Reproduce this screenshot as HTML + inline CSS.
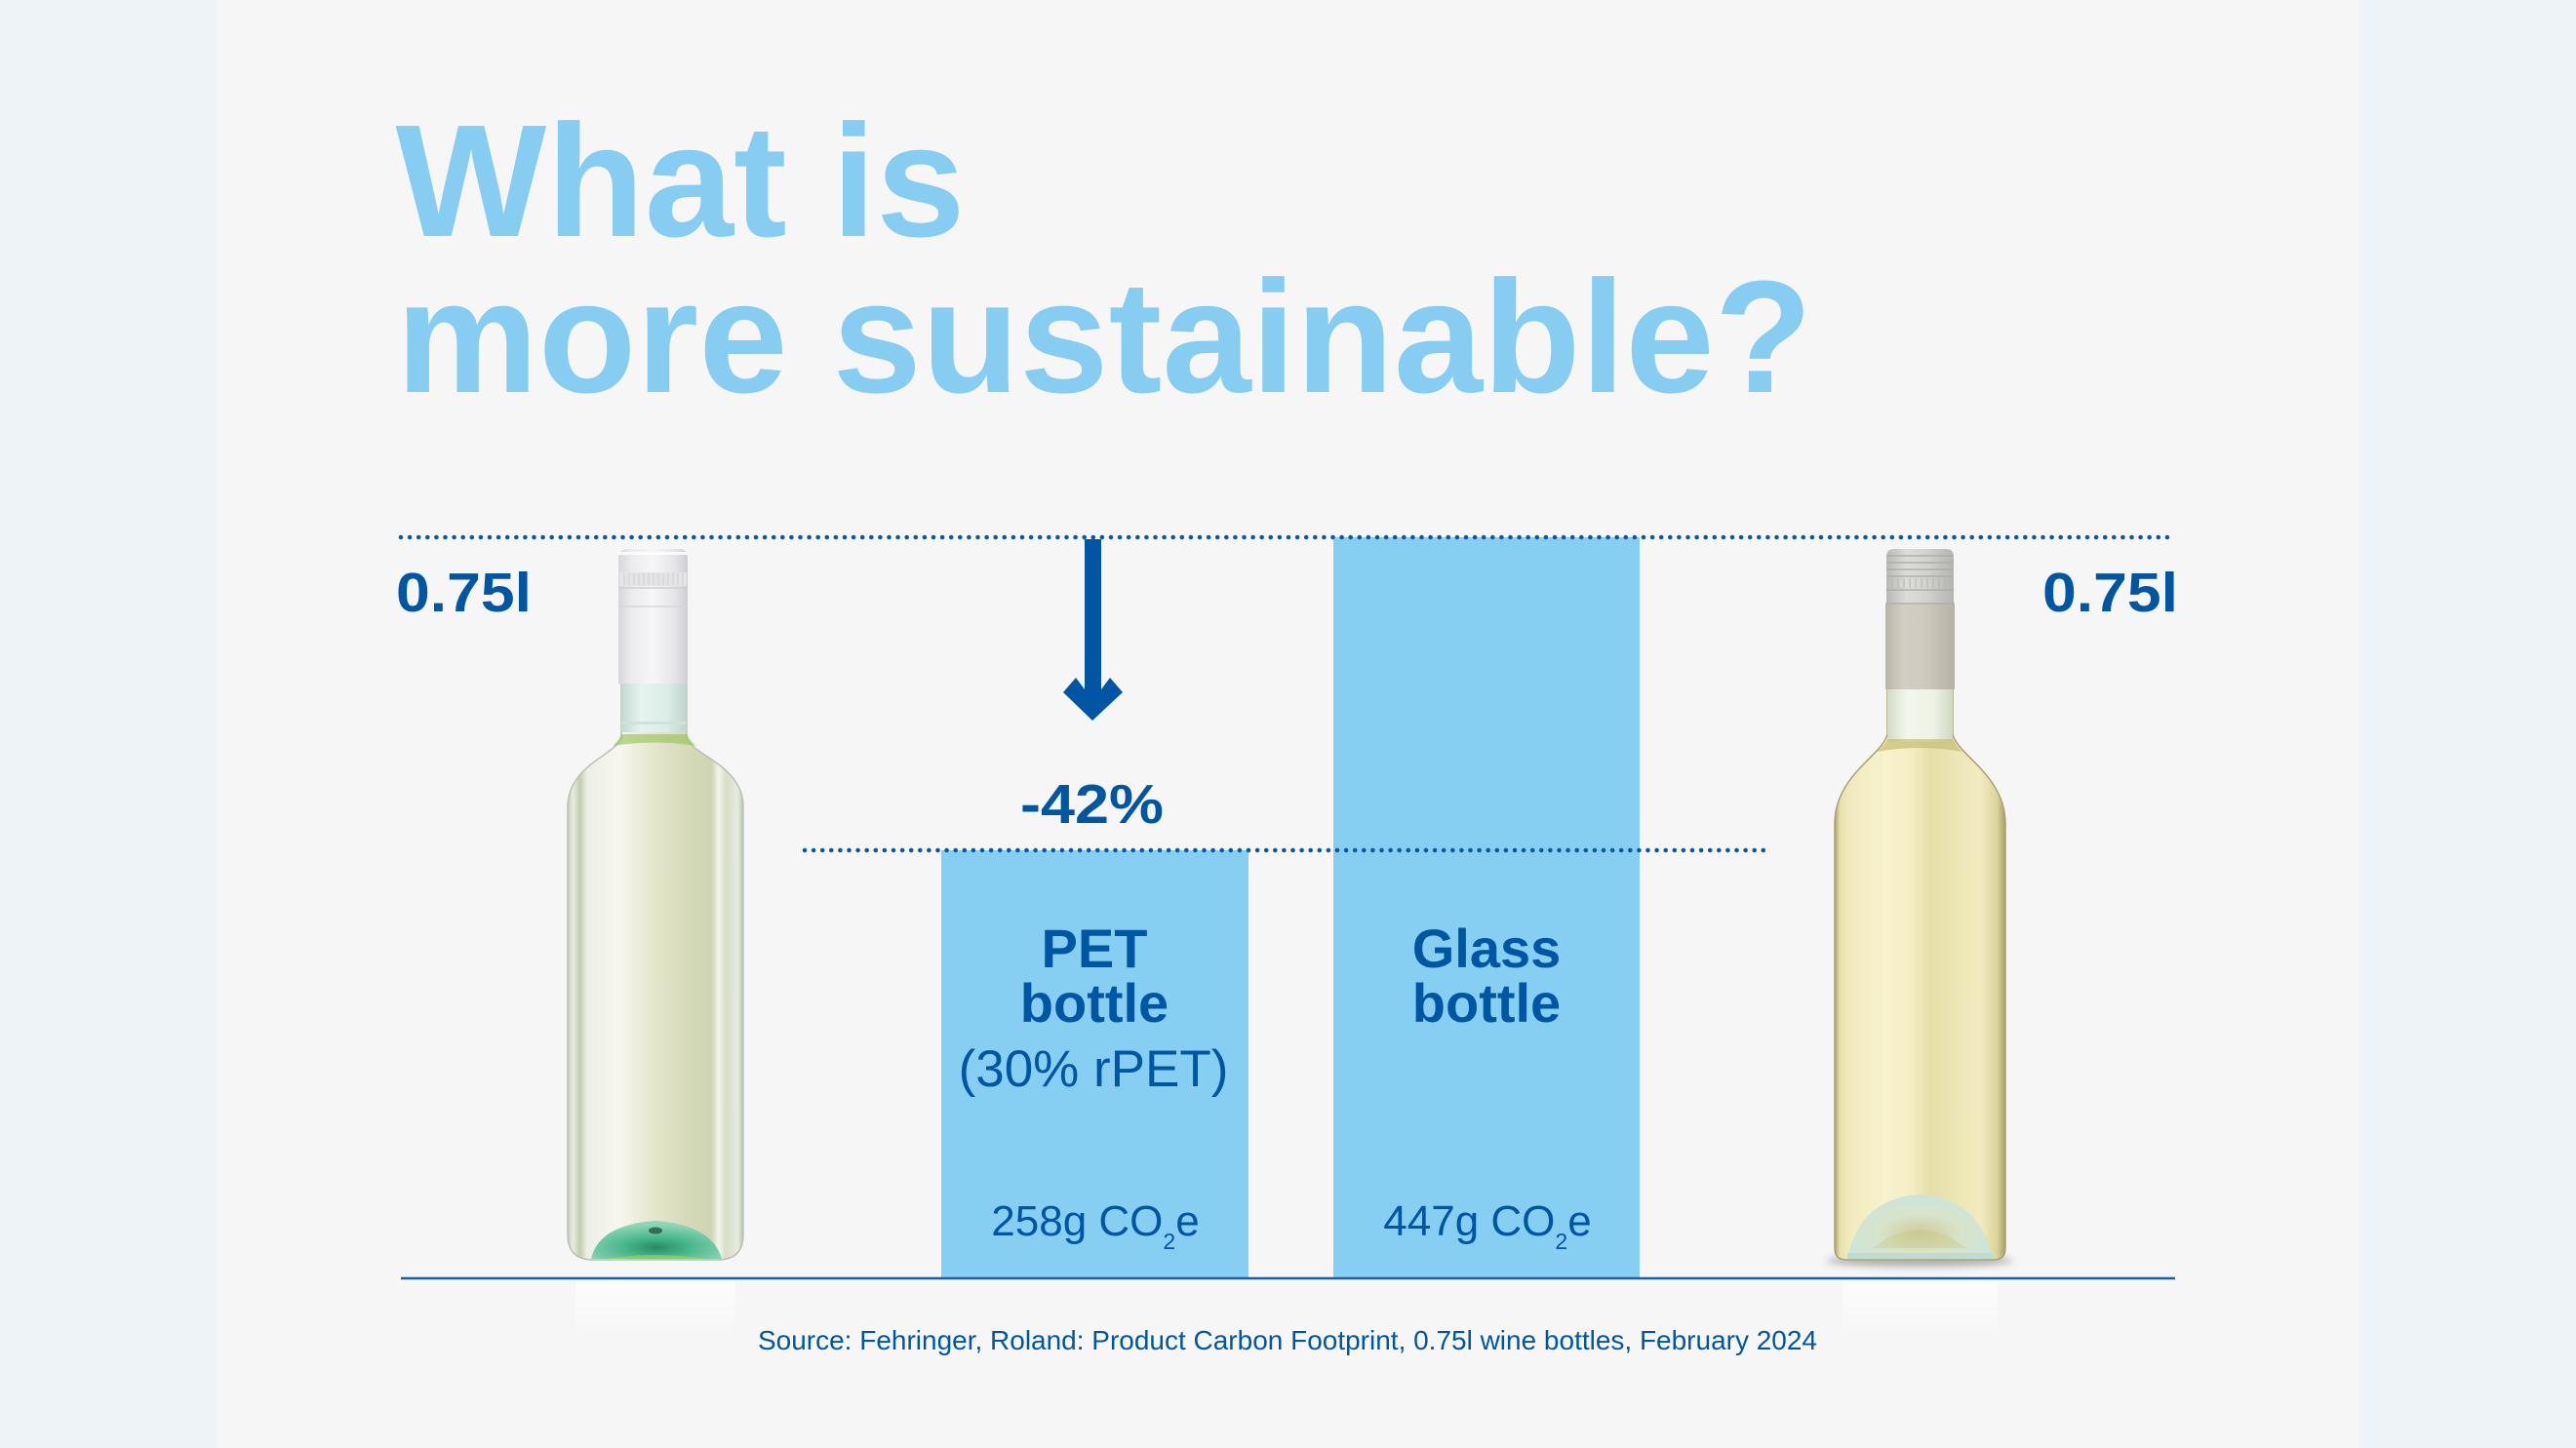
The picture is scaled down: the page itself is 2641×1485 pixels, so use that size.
<!DOCTYPE html>
<html>
<head>
<meta charset="utf-8">
<style>
  html,body{margin:0;padding:0;background:#eef3f8;}
  svg{display:block;}
  text{font-family:"Liberation Sans", Arial, sans-serif;}
</style>
</head>
<body>
<svg width="2641" height="1485" viewBox="0 0 2641 1485" xmlns="http://www.w3.org/2000/svg">
  <defs>
    <linearGradient id="lbody" x1="0" x2="1" y1="0" y2="0">
      <stop offset="0" stop-color="#c2c9b6"/>
      <stop offset="0.03" stop-color="#e9ece2"/>
      <stop offset="0.07" stop-color="#c3cbae"/>
      <stop offset="0.11" stop-color="#eef0e7"/>
      <stop offset="0.3" stop-color="#f6f6ef"/>
      <stop offset="0.5" stop-color="#e4e5ca"/>
      <stop offset="0.7" stop-color="#d4d9b8"/>
      <stop offset="0.82" stop-color="#cfd5b0"/>
      <stop offset="0.86" stop-color="#f3f5ec"/>
      <stop offset="0.9" stop-color="#d8dec6"/>
      <stop offset="0.97" stop-color="#e5ebe1"/>
      <stop offset="1" stop-color="#b5bfae"/>
    </linearGradient>
    <linearGradient id="rbody" x1="0" x2="1" y1="0" y2="0">
      <stop offset="0" stop-color="#a9a26c"/>
      <stop offset="0.03" stop-color="#e6e0ae"/>
      <stop offset="0.1" stop-color="#f2ebc0"/>
      <stop offset="0.3" stop-color="#f8f2cd"/>
      <stop offset="0.45" stop-color="#f4edc4"/>
      <stop offset="0.56" stop-color="#e5dea8"/>
      <stop offset="0.7" stop-color="#ece5b4"/>
      <stop offset="0.85" stop-color="#f2ebc1"/>
      <stop offset="0.95" stop-color="#ddd59c"/>
      <stop offset="1" stop-color="#a59e6c"/>
    </linearGradient>
    <linearGradient id="lcap" x1="0" x2="1" y1="0" y2="0">
      <stop offset="0" stop-color="#d6d7db"/>
      <stop offset="0.2" stop-color="#ececef"/>
      <stop offset="0.5" stop-color="#f6f6f8"/>
      <stop offset="0.8" stop-color="#e6e6ea"/>
      <stop offset="1" stop-color="#cdced3"/>
    </linearGradient>
    <linearGradient id="rcap" x1="0" x2="1" y1="0" y2="0">
      <stop offset="0" stop-color="#b9b4a9"/>
      <stop offset="0.25" stop-color="#d3cec3"/>
      <stop offset="0.55" stop-color="#d0cbc0"/>
      <stop offset="1" stop-color="#b6b1a6"/>
    </linearGradient>
    <linearGradient id="rcapt" x1="0" x2="1" y1="0" y2="0">
      <stop offset="0" stop-color="#b8b8b4"/>
      <stop offset="0.3" stop-color="#dcdcd8"/>
      <stop offset="0.6" stop-color="#d2d2ce"/>
      <stop offset="1" stop-color="#b4b4b0"/>
    </linearGradient>
    <linearGradient id="lneck" x1="0" x2="1" y1="0" y2="0">
      <stop offset="0" stop-color="#c4d8d2"/>
      <stop offset="0.3" stop-color="#e6f3ef"/>
      <stop offset="0.7" stop-color="#dcece7"/>
      <stop offset="1" stop-color="#bfd3cc"/>
    </linearGradient>
    <linearGradient id="rneck" x1="0" x2="1" y1="0" y2="0">
      <stop offset="0" stop-color="#d2dcc8"/>
      <stop offset="0.3" stop-color="#f2f6ec"/>
      <stop offset="0.7" stop-color="#eef3e6"/>
      <stop offset="1" stop-color="#cdd7c2"/>
    </linearGradient>
    <radialGradient id="lpunt" cx="0.5" cy="0.7" r="0.6">
      <stop offset="0" stop-color="#2a8a60"/>
      <stop offset="0.4" stop-color="#45b58a"/>
      <stop offset="1" stop-color="#8ed6b6"/>
    </radialGradient>
    <radialGradient id="rpunt" cx="0.5" cy="0.6" r="0.6">
      <stop offset="0" stop-color="#cfcc96"/>
      <stop offset="0.5" stop-color="#d8e4cc"/>
      <stop offset="1" stop-color="#cbe4da"/>
    </radialGradient>
    <linearGradient id="refl" x1="0" x2="0" y1="0" y2="1">
      <stop offset="0" stop-color="#ffffff" stop-opacity="0.7"/>
      <stop offset="1" stop-color="#ffffff" stop-opacity="0"/>
    </linearGradient>
    <filter id="blur4" x="-20%" y="-200%" width="140%" height="500%">
      <feGaussianBlur stdDeviation="4"/>
    </filter>
  </defs>

  <!-- backgrounds -->
  <rect x="0" y="0" width="2641" height="1485" fill="#eef3f8"/>
  <rect x="222" y="0" width="2197" height="1485" fill="#f6f6f6"/>

  <!-- title -->
  <text x="405.5" y="242" font-size="164" font-weight="bold" fill="#87cdf2" textLength="584" lengthAdjust="spacing">What is</text>
  <text x="406" y="402" font-size="164" font-weight="bold" fill="#87cdf2" textLength="1452" lengthAdjust="spacing">more sustainable?</text>

  <!-- bars -->
  <rect x="965" y="872" width="315" height="439" fill="#87cef3"/>
  <rect x="1367" y="551" width="314" height="760" fill="#87cef3"/>

  <!-- dotted lines -->
  <line x1="411" y1="551" x2="2231" y2="551" stroke="#0a58a3" stroke-width="4.6" stroke-linecap="round" stroke-dasharray="0 9.1"/>
  <line x1="825" y1="872" x2="1814" y2="872" stroke="#0a58a3" stroke-width="4.6" stroke-linecap="round" stroke-dasharray="0 9.1"/>

  <!-- arrow -->
  <polygon points="1112,553 1129,553 1129,707 1138,695 1151,710 1120,739 1090,710 1103,695 1112,707" fill="#0056a2"/>

  <!-- -42% -->
  <text x="1046" y="844" font-size="57" font-weight="bold" fill="#0056a2" textLength="147" lengthAdjust="spacingAndGlyphs">-42%</text>

  <!-- 0.75l labels -->
  <text x="406" y="627" font-size="57" font-weight="bold" fill="#0056a2" textLength="139" lengthAdjust="spacingAndGlyphs">0.75l</text>
  <text x="2094" y="627" font-size="57" font-weight="bold" fill="#0056a2" textLength="139" lengthAdjust="spacingAndGlyphs">0.75l</text>

  <!-- bar labels -->
  <text x="1122" y="992" font-size="56" font-weight="bold" fill="#0056a2" text-anchor="middle">PET</text>
  <text x="1122" y="1048" font-size="56" font-weight="bold" fill="#0056a2" text-anchor="middle">bottle</text>
  <text x="1121" y="1114" font-size="53" fill="#0056a2" text-anchor="middle">(30% rPET)</text>

  <text x="1524" y="992" font-size="56" font-weight="bold" fill="#0056a2" text-anchor="middle">Glass</text>
  <text x="1524" y="1048" font-size="56" font-weight="bold" fill="#0056a2" text-anchor="middle">bottle</text>

  <text x="1123" y="1267" font-size="44" fill="#0056a2" text-anchor="middle">258g CO<tspan font-size="23" dy="14">2</tspan><tspan dy="-14">e</tspan></text>
  <text x="1525" y="1267" font-size="44" fill="#0056a2" text-anchor="middle">447g CO<tspan font-size="23" dy="14">2</tspan><tspan dy="-14">e</tspan></text>

  <!-- ================= LEFT BOTTLE (PET) ================= -->
  <rect x="590" y="1313" width="164" height="60" fill="url(#refl)"/>
  <path d="M637 701 L637 757 C630 775 582 785 582 828 L582 1266 Q582 1292 608 1292 L736 1292 Q762 1292 762 1266 L762 828 C762 785 711 775 704 757 L704 701 Z" fill="url(#lbody)" stroke="#b9c2b3" stroke-width="1.5"/>
  <rect x="637" y="701" width="67" height="50" fill="url(#lneck)"/>
  <rect x="637" y="740" width="67" height="3" fill="#cfe1da"/>
  <path d="M637 753 L704 753 C707 758 710 762 714 765 Q672 758 628 765 C632 762 635 758 637 753 Z" fill="#93c24e" opacity="0.6"/>
  <path d="M606 1291 Q614 1256 672 1252 Q730 1256 740 1291 Z" fill="url(#lpunt)"/>
  <path d="M622 1291 Q672 1283 724 1291 Z" fill="#a8d45c" opacity="0.6"/>
  <ellipse cx="672" cy="1262" rx="7" ry="3.5" fill="#1a4a34" opacity="0.7"/>
  <path d="M634 701 L634 572 Q634 563 643 563 L696 563 Q705 563 705 572 L705 701 Z" fill="url(#lcap)"/>
  <rect x="634" y="566" width="71" height="3" fill="#ffffff" opacity="0.8"/>
  <rect x="635" y="587" width="69" height="14" fill="#e4e4e7"/>
  <g stroke="#cfd0d4" stroke-width="1">
    <line x1="640" y1="588" x2="640" y2="600"/><line x1="645" y1="588" x2="645" y2="600"/>
    <line x1="650" y1="588" x2="650" y2="600"/><line x1="655" y1="588" x2="655" y2="600"/>
    <line x1="660" y1="588" x2="660" y2="600"/><line x1="665" y1="588" x2="665" y2="600"/>
    <line x1="670" y1="588" x2="670" y2="600"/><line x1="675" y1="588" x2="675" y2="600"/>
    <line x1="680" y1="588" x2="680" y2="600"/><line x1="685" y1="588" x2="685" y2="600"/>
    <line x1="690" y1="588" x2="690" y2="600"/><line x1="695" y1="588" x2="695" y2="600"/>
    <line x1="700" y1="588" x2="700" y2="600"/>
  </g>
  <line x1="634" y1="603" x2="705" y2="603" stroke="#cfd0d4" stroke-width="1.5"/>
  <line x1="634" y1="622" x2="705" y2="622" stroke="#d6d7db" stroke-width="1.5"/>

  <!-- ================= RIGHT BOTTLE (Glass) ================= -->
  <rect x="1889" y="1313" width="159" height="60" fill="url(#refl)"/>
  <ellipse cx="1968" cy="1293" rx="96" ry="6" fill="#555" opacity="0.45" filter="url(#blur4)"/>
  <path d="M1935 707 L1935 753 C1930 775 1881 795 1881 845 L1881 1280 Q1881 1292 1893 1292 L2044 1292 Q2056 1292 2056 1280 L2056 845 C2056 795 2007 775 2002 753 L2002 707 Z" fill="url(#rbody)" stroke="#a8a170" stroke-width="1.5"/>
  <rect x="1935" y="707" width="67" height="54" fill="url(#rneck)"/>
  <path d="M1935 758 L2002 758 C2005 764 2008 768 2012 771 Q1968 763 1924 771 C1928 768 1932 764 1935 758 Z" fill="#c4bd74" opacity="0.7"/>
  <path d="M1894 1291 Q1906 1229 1968 1225 Q2030 1229 2043 1291 Z" fill="url(#rpunt)"/>
  <path d="M1920 1280 Q1968 1242 2016 1280 Z" fill="#c9c688" opacity="0.4"/>
  <rect x="1894" y="1285" width="149" height="6" fill="#bcdace" opacity="0.8"/>
  <rect x="1933" y="620" width="71" height="87" fill="url(#rcap)"/>
  <path d="M1934 620 L1934 571 Q1934 563 1942 563 L1995 563 Q2003 563 2003 571 L2003 620 Z" fill="url(#rcapt)"/>
  <g stroke="#a8a8a4" stroke-width="1.2">
    <line x1="1935" y1="570" x2="2002" y2="570"/>
    <line x1="1935" y1="577" x2="2002" y2="577"/>
    <line x1="1935" y1="584" x2="2002" y2="584"/>
    <line x1="1935" y1="591" x2="2002" y2="591"/>
    <line x1="1934" y1="605" x2="2003" y2="605"/>
    <line x1="1933" y1="619" x2="2004" y2="619"/>
  </g>
  <g stroke="#b4b4b0" stroke-width="1">
    <line x1="1940" y1="593" x2="1940" y2="603"/><line x1="1946" y1="593" x2="1946" y2="603"/>
    <line x1="1952" y1="593" x2="1952" y2="603"/><line x1="1958" y1="593" x2="1958" y2="603"/>
    <line x1="1964" y1="593" x2="1964" y2="603"/><line x1="1970" y1="593" x2="1970" y2="603"/>
    <line x1="1976" y1="593" x2="1976" y2="603"/><line x1="1982" y1="593" x2="1982" y2="603"/>
    <line x1="1988" y1="593" x2="1988" y2="603"/><line x1="1994" y1="593" x2="1994" y2="603"/>
  </g>

  <!-- baseline -->
  <line x1="411" y1="1311" x2="2230" y2="1311" stroke="#1560a8" stroke-width="2.5"/>

  <!-- source -->
  <text x="777" y="1384" font-size="27.5" fill="#0056a2" textLength="1086" lengthAdjust="spacingAndGlyphs">Source: Fehringer, Roland: Product Carbon Footprint, 0.75l wine bottles, February 2024</text>
</svg>
</body>
</html>
